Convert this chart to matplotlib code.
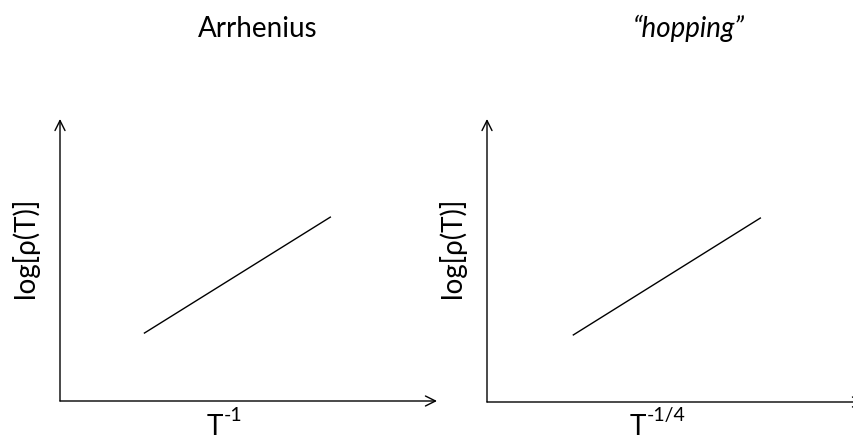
import matplotlib.pyplot as plt

# schematic lines: log(rho) vs T^-1 and vs T^-1/4
arr_x = [0.224, 0.717]
arr_y = [0.241, 0.652]
hop_x = [0.229, 0.725]
hop_y = [0.237, 0.650]

titles = ['Arrhenius', '\u201chopping\u201d']
xl_sup = ['-1', '-1/4']
ylabel = 'log[\u03c1(T)]'

plt.rcParams['font.family'] = ['Lato', 'DejaVu Sans']

fig = plt.figure(figsize=(8.54, 4.39), dpi=100)
W, H = 854, 439
# axes rectangles in pixels (left, bottom-from-top, width, height)
boxes = [(60, 402, 377, 282), (487, 403, 377, 283)]
series = [(arr_x, arr_y), (hop_x, hop_y)]

for (l, b, w, h), (xs, ys) in zip(boxes, series):
    ax = fig.add_axes([l / W, (H - b) / H, w / W, h / H])
    ax.set_xlim(0, 1); ax.set_ylim(0, 1)
    ax.axis('off')
    ax.plot(xs, ys, color='black', lw=1.0)
    arrow = dict(arrowstyle='->', color='black', lw=1.0, mutation_scale=18,
                 shrinkA=0, shrinkB=0)
    ax.annotate('', xy=(1, 0), xytext=(0, 0), xycoords='axes fraction',
                arrowprops=arrow, annotation_clip=False)
    ax.annotate('', xy=(0, 1), xytext=(0, 0), xycoords='axes fraction',
                arrowprops=arrow, annotation_clip=False)

def px(x, y):
    return x / W, 1 - y / H

# titles
fig.text(*px(258, 37), titles[0], fontsize=20, ha='center', va='baseline')
fig.text(*px(689, 37), titles[1], fontsize=20, ha='center', va='baseline',
         style='italic')
# x labels: base letter + superscript
for xb, s in zip([215, 638], xl_sup):
    fig.text(*px(xb, 435), 'T', fontsize=20, ha='center', va='baseline')
    fig.text(*px(xb + 9, 421), s, fontsize=14, ha='left', va='baseline')
# y labels
fig.text(*px(25, 248), ylabel, fontsize=20, ha='center', va='center',
         rotation=90)
fig.text(*px(452, 248), ylabel, fontsize=20, ha='center', va='center',
         rotation=90)

fig.savefig('out.png', dpi=100)
plt.close(fig)
